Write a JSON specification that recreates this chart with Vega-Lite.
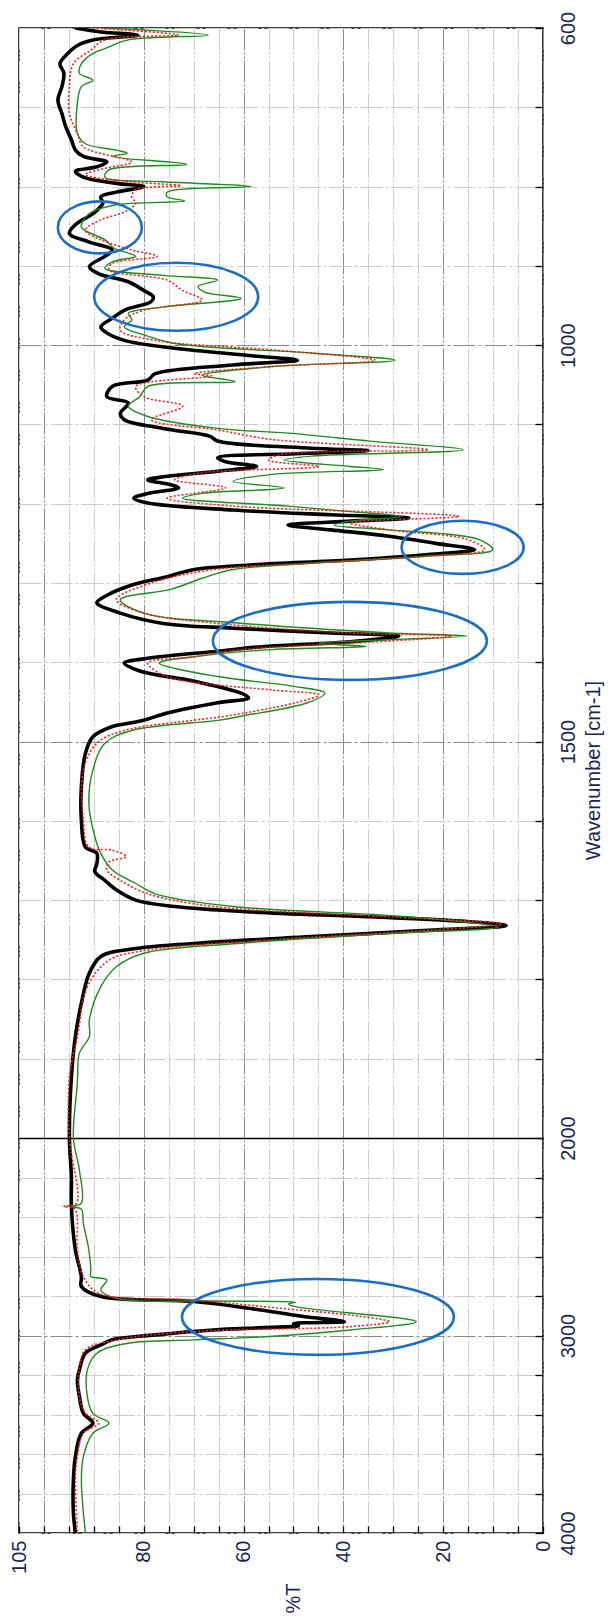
{
  "$schema": "https://vega.github.io/schema/vega-lite/v6.json",
  "width": 524,
  "height": 1505,
  "autosize": {"type": "none"},
  "padding": {"left": 19, "top": 28, "right": 68, "bottom": 88},
  "background": "white",
  "config": {
    "view": {"stroke": "black", "strokeWidth": 1.5},
    "font": "Liberation Sans"
  },
  "datasets": {
    "black": [
      {"W":4000,"T":93.7},{"W":3900,"T":94.1},{"W":3731,"T":94.1},{"W":3613,"T":93.7},{"W":3495,"T":92.5},{"W":3444,"T":90.2},{"W":3394,"T":92.1},{"W":3309,"T":92.9},{"W":3225,"T":93.3},{"W":3174,"T":92.9},{"W":3090,"T":91.7},{"W":3048,"T":88.6},{"W":3022,"T":86.3},{"W":2997,"T":77.7},{"W":2972,"T":66.0},{"W":2960,"T":56.0},{"W":2950,"T":49.0},{"W":2940,"T":50.0},{"W":2930,"T":39.8},{"W":2904,"T":48.0},{"W":2862,"T":59.0},{"W":2828,"T":69.9},{"W":2803,"T":88.6},{"W":2752,"T":92.5},{"W":2702,"T":92.5},{"W":2567,"T":93.7},{"W":2347,"T":94.5},{"W":2195,"T":94.5},{"W":2000,"T":94.9},{"W":1923,"T":94.5},{"W":1872,"T":93.7},{"W":1830,"T":92.5},{"W":1792,"T":90.9},{"W":1771,"T":88.6},{"W":1761,"T":81.6},{"W":1753,"T":66.0},{"W":1746,"T":46.4},{"W":1738,"T":23.0},{"W":1732,"T":7.4},{"W":1727,"T":15.2},{"W":1721,"T":34.7},{"W":1715,"T":58.2},{"W":1708,"T":73.8},{"W":1700,"T":81.6},{"W":1687,"T":85.5},{"W":1675,"T":87.8},{"W":1664,"T":89.8},{"W":1654,"T":89.4},{"W":1641,"T":89.4},{"W":1633,"T":91.7},{"W":1599,"T":92.5},{"W":1557,"T":92.5},{"W":1515,"T":91.7},{"W":1494,"T":90.2},{"W":1481,"T":86.3},{"W":1477,"T":83.1},{"W":1473,"T":80.0},{"W":1464,"T":75.3},{"W":1451,"T":65.2},{"W":1445,"T":59.0},{"W":1439,"T":60.5},{"W":1424,"T":69.9},{"W":1411,"T":80.8},{"W":1401,"T":83.9},{"W":1395,"T":79.2},{"W":1386,"T":65.2},{"W":1380,"T":55.8},{"W":1374,"T":38.6},{"W":1367,"T":28.9},{"W":1363,"T":42.5},{"W":1357,"T":62.1},{"W":1351,"T":76.1},{"W":1338,"T":84.7},{"W":1325,"T":89.4},{"W":1317,"T":87.8},{"W":1304,"T":83.1},{"W":1292,"T":75.3},{"W":1283,"T":69.9},{"W":1277,"T":58.2},{"W":1271,"T":38.6},{"W":1264,"T":23.0},{"W":1258,"T":13.7},{"W":1250,"T":21.5},{"W":1241,"T":30.8},{"W":1233,"T":42.5},{"W":1227,"T":51.1},{"W":1222,"T":38.6},{"W":1218,"T":26.9},{"W":1214,"T":42.5},{"W":1208,"T":62.1},{"W":1199,"T":79.2},{"W":1193,"T":82.0},{"W":1187,"T":79.2},{"W":1180,"T":73.0},{"W":1176,"T":74.6},{"W":1170,"T":79.2},{"W":1166,"T":76.1},{"W":1159,"T":65.2},{"W":1153,"T":57.4},{"W":1147,"T":63.6},{"W":1142,"T":65.2},{"W":1137,"T":49.6},{"W":1133,"T":35.1},{"W":1130,"T":46.4},{"W":1121,"T":65.2},{"W":1115,"T":66.7},{"W":1105,"T":76.1},{"W":1094,"T":83.9},{"W":1086,"T":84.7},{"W":1073,"T":83.1},{"W":1065,"T":87.4},{"W":1052,"T":86.3},{"W":1044,"T":79.2},{"W":1036,"T":77.7},{"W":1025,"T":62.1},{"W":1019,"T":49.2},{"W":1013,"T":59.0},{"W":1004,"T":73.8},{"W":994,"T":83.9},{"W":983,"T":87.8},{"W":977,"T":88.6},{"W":966,"T":86.3},{"W":956,"T":83.9},{"W":945,"T":78.5},{"W":939,"T":78.1},{"W":931,"T":80.0},{"W":920,"T":83.1},{"W":910,"T":89.0},{"W":901,"T":90.9},{"W":888,"T":87.8},{"W":880,"T":86.3},{"W":870,"T":90.9},{"W":859,"T":94.9},{"W":846,"T":93.3},{"W":836,"T":90.6},{"W":830,"T":89.4},{"W":821,"T":88.2},{"W":813,"T":88.6},{"W":807,"T":85.5},{"W":800,"T":80.0},{"W":796,"T":85.5},{"W":788,"T":92.1},{"W":781,"T":93.7},{"W":775,"T":89.4},{"W":769,"T":87.4},{"W":762,"T":92.1},{"W":754,"T":93.7},{"W":741,"T":94.5},{"W":725,"T":95.6},{"W":708,"T":96.4},{"W":691,"T":97.2},{"W":674,"T":96.4},{"W":657,"T":96.0},{"W":645,"T":96.8},{"W":632,"T":95.2},{"W":622,"T":93.3},{"W":615,"T":90.2},{"W":609,"T":81.2},{"W":605,"T":88.6},{"W":600,"T":93.7}
    ],
    "red": [
      {"W":4000,"T":93.3},{"W":3731,"T":93.7},{"W":3613,"T":93.3},{"W":3495,"T":92.1},{"W":3444,"T":89.0},{"W":3394,"T":91.7},{"W":3309,"T":92.9},{"W":3174,"T":92.9},{"W":3073,"T":91.7},{"W":3022,"T":85.5},{"W":2980,"T":69.9},{"W":2955,"T":38.6},{"W":2930,"T":30.8},{"W":2904,"T":36.3},{"W":2862,"T":52.7},{"W":2820,"T":69.9},{"W":2786,"T":89.0},{"W":2702,"T":92.1},{"W":2567,"T":93.3},{"W":2360,"T":93.8},{"W":2347,"T":96.1},{"W":2330,"T":93.5},{"W":2000,"T":94.9},{"W":1923,"T":94.9},{"W":1872,"T":93.3},{"W":1809,"T":91.3},{"W":1776,"T":87.0},{"W":1763,"T":79.2},{"W":1750,"T":54.3},{"W":1738,"T":23.0},{"W":1730,"T":8.2},{"W":1721,"T":30.8},{"W":1708,"T":66.0},{"W":1692,"T":79.2},{"W":1675,"T":84.7},{"W":1662,"T":87.4},{"W":1652,"T":87.0},{"W":1645,"T":83.5},{"W":1637,"T":86.3},{"W":1633,"T":91.0},{"W":1599,"T":92.1},{"W":1536,"T":92.1},{"W":1502,"T":89.4},{"W":1486,"T":83.9},{"W":1473,"T":69.9},{"W":1468,"T":63.6},{"W":1451,"T":49.6},{"W":1441,"T":44.9},{"W":1435,"T":54.3},{"W":1418,"T":75.3},{"W":1401,"T":79.2},{"W":1393,"T":69.9},{"W":1384,"T":60.5},{"W":1376,"T":38.6},{"W":1367,"T":18.3},{"W":1363,"T":38.6},{"W":1351,"T":65.2},{"W":1338,"T":80.0},{"W":1321,"T":85.5},{"W":1300,"T":78.5},{"W":1283,"T":66.0},{"W":1275,"T":46.4},{"W":1266,"T":23.0},{"W":1258,"T":11.7},{"W":1245,"T":15.2},{"W":1233,"T":30.8},{"W":1224,"T":38.6},{"W":1216,"T":16.8},{"W":1203,"T":62.1},{"W":1193,"T":75.3},{"W":1180,"T":63.6},{"W":1170,"T":73.8},{"W":1161,"T":68.3},{"W":1153,"T":44.9},{"W":1145,"T":55.0},{"W":1138,"T":52.7},{"W":1132,"T":23.0},{"W":1119,"T":54.3},{"W":1107,"T":65.2},{"W":1094,"T":78.5},{"W":1077,"T":72.2},{"W":1065,"T":80.0},{"W":1052,"T":81.6},{"W":1039,"T":66.4},{"W":1036,"T":69.9},{"W":1027,"T":54.3},{"W":1019,"T":33.6},{"W":1006,"T":54.3},{"W":994,"T":77.7},{"W":981,"T":84.7},{"W":968,"T":83.9},{"W":956,"T":80.0},{"W":943,"T":68.3},{"W":931,"T":72.2},{"W":918,"T":75.3},{"W":905,"T":87.0},{"W":897,"T":86.3},{"W":888,"T":77.3},{"W":880,"T":82.4},{"W":867,"T":88.6},{"W":855,"T":91.7},{"W":842,"T":88.6},{"W":832,"T":83.9},{"W":821,"T":81.6},{"W":813,"T":82.4},{"W":804,"T":81.6},{"W":799,"T":72.6},{"W":794,"T":82.4},{"W":785,"T":91.7},{"W":777,"T":87.8},{"W":769,"T":82.4},{"W":750,"T":92.1},{"W":733,"T":93.3},{"W":708,"T":94.9},{"W":674,"T":94.9},{"W":645,"T":94.1},{"W":628,"T":90.6},{"W":615,"T":87.8},{"W":609,"T":73.0},{"W":600,"T":90.2}
    ],
    "green": [
      {"W":4000,"T":91.7},{"W":3731,"T":92.5},{"W":3613,"T":92.1},{"W":3495,"T":90.2},{"W":3444,"T":87.0},{"W":3394,"T":90.2},{"W":3309,"T":91.3},{"W":3174,"T":91.3},{"W":3090,"T":89.4},{"W":3039,"T":83.1},{"W":3022,"T":69.9},{"W":3006,"T":55.8},{"W":2972,"T":38.6},{"W":2930,"T":25.4},{"W":2854,"T":49.6},{"W":2840,"T":51.0},{"W":2832,"T":49.6},{"W":2825,"T":65.0},{"W":2812,"T":85.5},{"W":2769,"T":88.6},{"W":2719,"T":87.4},{"W":2700,"T":90.6},{"W":2668,"T":90.6},{"W":2567,"T":91.0},{"W":2432,"T":92.1},{"W":2360,"T":92.5},{"W":2347,"T":94.5},{"W":2330,"T":92.5},{"W":2162,"T":92.9},{"W":2000,"T":94.1},{"W":1931,"T":93.3},{"W":1893,"T":92.9},{"W":1872,"T":90.9},{"W":1851,"T":90.9},{"W":1809,"T":88.6},{"W":1784,"T":85.5},{"W":1767,"T":80.0},{"W":1755,"T":62.1},{"W":1742,"T":30.8},{"W":1734,"T":9.0},{"W":1721,"T":26.9},{"W":1708,"T":62.1},{"W":1692,"T":77.7},{"W":1679,"T":81.6},{"W":1662,"T":86.3},{"W":1641,"T":88.6},{"W":1620,"T":89.8},{"W":1578,"T":91.0},{"W":1536,"T":90.2},{"W":1502,"T":87.8},{"W":1486,"T":82.4},{"W":1473,"T":64.8},{"W":1468,"T":60.5},{"W":1451,"T":47.2},{"W":1439,"T":43.7},{"W":1430,"T":50.3},{"W":1418,"T":65.2},{"W":1401,"T":76.9},{"W":1393,"T":69.9},{"W":1384,"T":54.3},{"W":1380,"T":35.5},{"W":1376,"T":45.0},{"W":1367,"T":15.2},{"W":1363,"T":30.8},{"W":1351,"T":60.0},{"W":1338,"T":80.0},{"W":1321,"T":84.7},{"W":1308,"T":74.6},{"W":1294,"T":68.3},{"W":1283,"T":62.1},{"W":1275,"T":46.4},{"W":1266,"T":23.0},{"W":1258,"T":10.1},{"W":1245,"T":12.9},{"W":1233,"T":30.8},{"W":1227,"T":41.8},{"W":1222,"T":38.6},{"W":1216,"T":28.5},{"W":1210,"T":38.6},{"W":1203,"T":51.1},{"W":1193,"T":72.2},{"W":1187,"T":68.3},{"W":1180,"T":51.9},{"W":1172,"T":62.1},{"W":1163,"T":54.3},{"W":1157,"T":32.0},{"W":1153,"T":38.6},{"W":1145,"T":51.9},{"W":1140,"T":46.4},{"W":1132,"T":16.0},{"W":1121,"T":34.7},{"W":1111,"T":51.1},{"W":1105,"T":65.2},{"W":1090,"T":79.2},{"W":1077,"T":83.1},{"W":1065,"T":80.8},{"W":1052,"T":79.2},{"W":1046,"T":61.7},{"W":1038,"T":68.3},{"W":1027,"T":54.3},{"W":1019,"T":29.7},{"W":1010,"T":46.4},{"W":998,"T":73.8},{"W":987,"T":80.0},{"W":977,"T":83.9},{"W":968,"T":82.4},{"W":960,"T":83.1},{"W":952,"T":76.1},{"W":941,"T":60.5},{"W":933,"T":67.8},{"W":926,"T":69.1},{"W":918,"T":65.2},{"W":912,"T":76.1},{"W":903,"T":87.8},{"W":895,"T":86.3},{"W":888,"T":81.6},{"W":884,"T":83.1},{"W":878,"T":85.9},{"W":867,"T":87.8},{"W":851,"T":92.5},{"W":834,"T":90.9},{"W":823,"T":85.5},{"W":818,"T":71.8},{"W":813,"T":75.3},{"W":807,"T":75.3},{"W":800,"T":58.5},{"W":794,"T":76.1},{"W":788,"T":87.8},{"W":779,"T":87.0},{"W":772,"T":71.4},{"W":762,"T":86.3},{"W":758,"T":83.3},{"W":754,"T":85.5},{"W":746,"T":91.7},{"W":733,"T":93.3},{"W":695,"T":93.3},{"W":674,"T":92.5},{"W":666,"T":90.2},{"W":657,"T":92.9},{"W":645,"T":92.5},{"W":632,"T":90.2},{"W":626,"T":87.8},{"W":615,"T":83.1},{"W":609,"T":67.1},{"W":600,"T":87.8}
    ]
  },
  "encoding": {
    "x": {
      "field": "T", "type": "quantitative",
      "scale": {"domain": [0, 105], "reverse": true, "nice": false, "zero": false},
      "axis": {
        "orient": "bottom",
        "values": [0,5,10,15,20,25,30,35,40,45,50,55,60,65,70,75,80,85,90,95,100,105],
        "format": "d",
        "labelExpr": "indexof([105,80,60,40,20,0], datum.value) >= 0 ? datum.label : ''",
        "labelAngle": 270, "labelAlign": "right", "labelBaseline": "middle",
        "labelPadding": 14, "labelFlush": false, "labelOverlap": false,
        "labelFontSize": 20, "labelFont": "Liberation Sans", "labelColor": "#1a2650",
        "tickSize": -7, "tickColor": "black", "tickWidth": 1.3,
        "domain": false,
        "grid": true,
        "gridColor": {"condition": {"test": "datum.value % 20 == 0", "value": "#8a8a8a"}, "value": "#cccccc"},
        "gridDash": [22, 2, 2, 2, 2, 2],
        "gridWidth": 1,
        "title": "%T", "titleAngle": 270, "titleAlign": "right", "titleBaseline": "middle",
        "titleX": 274, "titleY": 50, "titleFontSize": 20, "titleFontWeight": "normal",
        "titleFont": "Liberation Sans", "titleColor": "#1a2650"
      }
    },
    "y": {
      "field": "W", "type": "quantitative",
      "scale": {"type": "linear", "domain": [4000, 2000, 600], "range": [1505, 1110, 0], "nice": false, "zero": false},
      "axis": {
        "orient": "right",
        "values": [600,700,800,900,1000,1100,1200,1300,1400,1500,1600,1700,1800,1900,2000,2200,2400,2600,2800,3000,3200,3400,3600,3800,4000],
        "format": "d",
        "labelExpr": "indexof([600,1000,1500,2000,3000,4000], datum.value) >= 0 ? datum.label : ''",
        "labelAngle": 270, "labelAlign": "center", "labelBaseline": "top",
        "labelPadding": 23, "labelFlush": false, "labelOverlap": false,
        "labelFontSize": 20, "labelFont": "Liberation Sans", "labelColor": "#1a2650",
        "tickSize": -8, "tickColor": "black", "tickWidth": 1.3,
        "domain": false,
        "grid": true,
        "gridColor": {"condition": [{"test": "datum.value == 2000", "value": "#000000"}, {"test": "datum.value == 1000 || datum.value == 1500 || datum.value == 3000", "value": "#8a8a8a"}], "value": "#cccccc"},
        "gridDash": {"condition": {"test": "datum.value == 2000", "value": []}, "value": [22, 3, 3, 3]},
        "gridWidth": {"condition": {"test": "datum.value == 2000", "value": 1.3}, "value": 1},
        "title": "Wavenumber [cm-1]", "titleAngle": 270, "titleAlign": "center", "titleBaseline": "middle",
        "titleX": 50, "titleY": 742, "titleFontSize": 20, "titleFontWeight": "normal",
        "titleFont": "Liberation Sans", "titleColor": "#1a2650"
      }
    }
  },
  "layer": [
    {
      "data": {"name": "black"},
      "mark": {"type": "line", "color": "#000000", "strokeWidth": 3.6, "clip": true, "interpolate": "catmull-rom"},
      "encoding": {"order": {"field": "W", "type": "quantitative"}}
    },
    {
      "data": {"name": "green"},
      "mark": {"type": "line", "color": "#1e8c1e", "strokeWidth": 1.4, "clip": true, "interpolate": "catmull-rom"},
      "encoding": {"order": {"field": "W", "type": "quantitative"}}
    },
    {
      "data": {"name": "red"},
      "mark": {"type": "line", "color": "#ff1a1a", "strokeWidth": 1.6, "strokeDash": [2, 2], "clip": true, "interpolate": "catmull-rom"},
      "encoding": {"order": {"field": "W", "type": "quantitative"}}
    },
    {
      "data": {"values": [{"W": 851.5, "T": 88.8}]},
      "mark": {"type": "point", "filled": false, "stroke": "#1a6fc2", "strokeWidth": 2.6, "opacity": 1, "size": 7056,
        "shape": "M-1,0C-1,-0.342,-0.552,-0.619,0,-0.619C0.552,-0.619,1,-0.342,1,0C1,0.342,0.552,0.619,0,0.619C-0.552,0.619,-1,0.342,-1,0Z"}
    },
    {
      "data": {"values": [{"W": 939, "T": 73.5}]},
      "mark": {"type": "point", "filled": false, "stroke": "#1a6fc2", "strokeWidth": 2.6, "opacity": 1, "size": 26896,
        "shape": "M-1,0C-1,-0.229,-0.552,-0.415,0,-0.415C0.552,-0.415,1,-0.229,1,0C1,0.229,0.552,0.415,0,0.415C-0.552,0.415,-1,0.229,-1,0Z"}
    },
    {
      "data": {"values": [{"W": 1255, "T": 16.1}]},
      "mark": {"type": "point", "filled": false, "stroke": "#1a6fc2", "strokeWidth": 2.6, "opacity": 1, "size": 14884,
        "shape": "M-1,0C-1,-0.241,-0.552,-0.436,0,-0.436C0.552,-0.436,1,-0.241,1,0C1,0.241,0.552,0.436,0,0.436C-0.552,0.436,-1,0.241,-1,0Z"}
    },
    {
      "data": {"values": [{"W": 1373, "T": 38.7}]},
      "mark": {"type": "point", "filled": false, "stroke": "#1a6fc2", "strokeWidth": 2.6, "opacity": 1, "size": 75076,
        "shape": "M-1,0C-1,-0.157,-0.552,-0.285,0,-0.285C0.552,-0.285,1,-0.157,1,0C1,0.157,0.552,0.285,0,0.285C-0.552,0.285,-1,0.157,-1,0Z"}
    },
    {
      "data": {"values": [{"W": 2906, "T": 45.1}]},
      "mark": {"type": "point", "filled": false, "stroke": "#1a6fc2", "strokeWidth": 2.6, "opacity": 1, "size": 73984,
        "shape": "M-1,0C-1,-0.154,-0.552,-0.279,0,-0.279C0.552,-0.279,1,-0.154,1,0C1,0.154,0.552,0.279,0,0.279C-0.552,0.279,-1,0.154,-1,0Z"}
    }
  ]
}
